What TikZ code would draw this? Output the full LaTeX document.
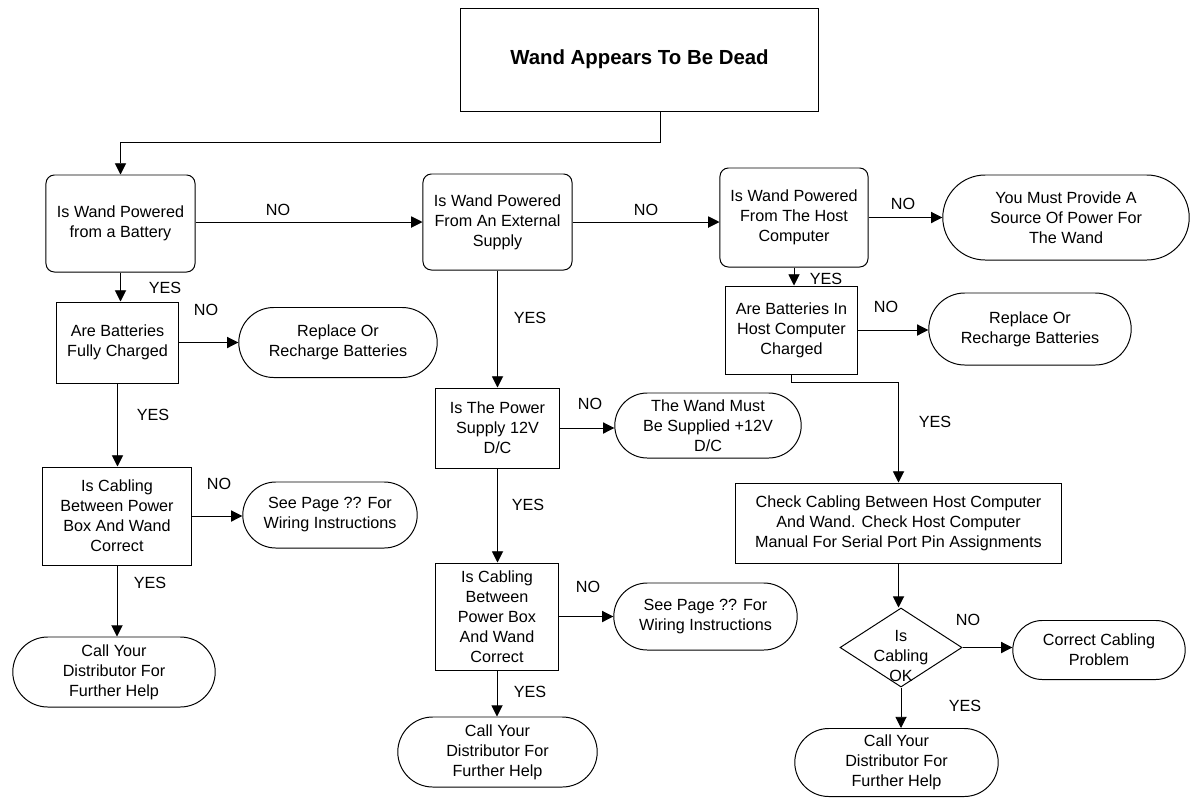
\documentclass[tikz,border=0pt]{standalone}
\usepackage{fontspec}
\setmainfont{Liberation Sans}
\usetikzlibrary{arrows.meta,shapes.misc,shapes.geometric}

\begin{document}
\begin{tikzpicture}[
  x=0.025cm, y=-0.025cm,
  every node/.style={font=\fontsize{11.5}{14.2}\selectfont, align=center},
  qbox/.style={rectangle, draw=black, line width=0.7pt, inner sep=2pt},
  rbox/.style={qbox, rounded corners=6pt},
  term/.style={rounded rectangle, draw=black, line width=0.7pt, inner sep=2pt},
  dbox/.style={diamond, draw=black, line width=0.7pt, inner sep=0pt},
  lbl/.style={inner sep=1pt},
  arrow/.style={line width=0.7pt, draw=black, -{Triangle[length=8pt,width=8pt]}}
]
  \useasboundingbox (0,0) rectangle (1193,798);

  % --- Start ---
  \node[qbox, minimum width=8.925cm, minimum height=2.575cm,
        font=\fontsize{14.5}{17}\selectfont\bfseries] (title) at (639.5,59.5) {Wand Appears To Be Dead};

  % --- Top row: where does the power come from ---
  \node[rbox, minimum width=3.725cm, minimum height=2.425cm] (b1) at (120.5,223.5) {Is Wand Powered\\from a Battery};
  \node[rbox, minimum width=3.725cm, minimum height=2.4cm] (b2) at (497.5,222) {Is Wand Powered\\From An External\\Supply};
  \node[rbox, minimum width=3.7cm, minimum height=2.475cm] (b3) at (794,217.5) {Is Wand Powered\\From The Host\\Computer};
  \node[term, minimum width=6.3cm, minimum height=2.125cm] (t1) at (1066,217.5) {You Must Provide A\\Source Of Power For\\The Wand};

  % --- Battery branch ---
  \node[qbox, minimum width=3.025cm, minimum height=2.025cm] (q1) at (117.5,342.5) {Are Batteries\\Fully Charged};
  \node[term, minimum width=5.1cm, minimum height=1.75cm] (t2) at (338,342.5) {Replace Or\\Recharge Batteries};
  \node[qbox, minimum width=3.7cm, minimum height=2.45cm] (q2) at (117,516) {Is Cabling\\Between Power\\Box And Wand\\Correct};
  \node[term, minimum width=4.5cm, minimum height=1.65cm] (t3) at (330,515) {See Page ?? For\\Wiring Instructions};
  \node[term, minimum width=5.2cm, minimum height=1.75cm] (t4) at (114,672) {Call Your\\Distributor For\\Further Help};

  % --- External supply branch ---
  \node[qbox, minimum width=3.075cm, minimum height=2.0cm] (q3) at (497.5,428) {Is The Power\\Supply 12V\\D/C};
  \node[term, minimum width=4.8cm, minimum height=1.625cm] (t5) at (708,425.5) {The Wand Must\\Be Supplied +12V\\D/C};
  \node[qbox, minimum width=3.05cm, minimum height=2.675cm] (q4) at (497,616.5) {Is Cabling\\Between\\Power Box\\And Wand\\Correct};
  \node[term, minimum width=4.725cm, minimum height=1.675cm] (t6) at (705.5,616.5) {See Page ?? For\\Wiring Instructions};
  \node[term, minimum width=5.125cm, minimum height=1.75cm] (t7) at (497.5,752) {Call Your\\Distributor For\\Further Help};

  % --- Host computer branch ---
  \node[qbox, minimum width=3.275cm, minimum height=2.2cm] (q5) at (791.5,330) {Are Batteries In\\Host Computer\\Charged};
  \node[term, minimum width=5.2cm, minimum height=1.8cm] (t8) at (1030,329) {Replace Or\\Recharge Batteries};
  \node[qbox, minimum width=8.125cm, minimum height=2.0cm] (q6) at (898.5,523) {Check Cabling Between Host Computer\\And Wand. Check Host Computer\\Manual For Serial Port Pin Assignments};
  \node[dbox, minimum width=3.05cm, minimum height=1.975cm] (d1) at (901,647.5) {};
  \node (d1txt) at (901,656) {Is\\Cabling\\OK};
  \node[term, minimum width=4.45cm, minimum height=1.475cm] (t9) at (1099,650) {Correct Cabling\\Problem};
  \node[term, minimum width=5.225cm, minimum height=1.7cm] (t10) at (896.5,762.5) {Call Your\\Distributor For\\Further Help};

  % --- Connectors ---
  \draw[arrow] ([xshift=0.525cm]title.south) -- ++(0,31) -| (b1.north);
  \draw[arrow] (b1.east |- b2.west) -- (b2.west);
  \draw[arrow] (b2.east) -- (b2.east -| b3.west);
  \draw[arrow] (b3.east) -- (b3.east -| t1.west);

  \draw[arrow] (b1.south) -- (b1.south |- q1.north);
  \draw[arrow] (q1.east) -- (q1.east -| t2.west);
  \draw[arrow] (q1.south) -- (q1.south |- q2.north);
  \draw[arrow] (q2.east) -- (q2.east -| t3.west);
  \draw[arrow] (q2.south) -- (q2.south |- t4.north);

  \draw[arrow] (b2.south) -- (b2.south |- q3.north);
  \draw[arrow] (q3.east) -- (q3.east -| t5.west);
  \draw[arrow] (q3.south) -- (q3.south |- q4.north);
  \draw[arrow] (q4.east) -- (q4.east -| t6.west);
  \draw[arrow] (q4.south) -- (q4.south |- t7.north);

  \draw[arrow] (b3.south) -- (b3.south |- q5.north);
  \draw[arrow] (q5.east) -- (q5.east -| t8.west);
  \draw[arrow] (q5.south) -- ++(0,8) -| (q6.north);
  \draw[arrow] (q6.south) -- (q6.south |- d1.north);
  \draw[arrow] (d1.east) -- (d1.east -| t9.west);
  \draw[arrow] (d1.south) -- (d1.south |- t10.north);

  % --- YES / NO ---
  \node[lbl] (no1) at (278,210) {NO};
  \node[lbl] (no2) at (646,210) {NO};
  \node[lbl] (no3) at (903,204) {NO};
  \node[lbl] (yes1) at (165,288) {YES};
  \node[lbl] (no4) at (206,310) {NO};
  \node[lbl] (yes2) at (153,415) {YES};
  \node[lbl] (no5) at (219,484) {NO};
  \node[lbl] (yes3) at (150,583) {YES};
  \node[lbl] (yes4) at (530,318) {YES};
  \node[lbl] (no6) at (590,404) {NO};
  \node[lbl] (yes5) at (528,505) {YES};
  \node[lbl] (no7) at (588,587) {NO};
  \node[lbl] (yes6) at (530,692) {YES};
  \node[lbl] (yes7) at (826,279) {YES};
  \node[lbl] (no8) at (886,307) {NO};
  \node[lbl] (yes8) at (935,422) {YES};
  \node[lbl] (no9) at (968,620) {NO};
  \node[lbl] (yes9) at (965,706) {YES};

\end{tikzpicture}
\end{document}
